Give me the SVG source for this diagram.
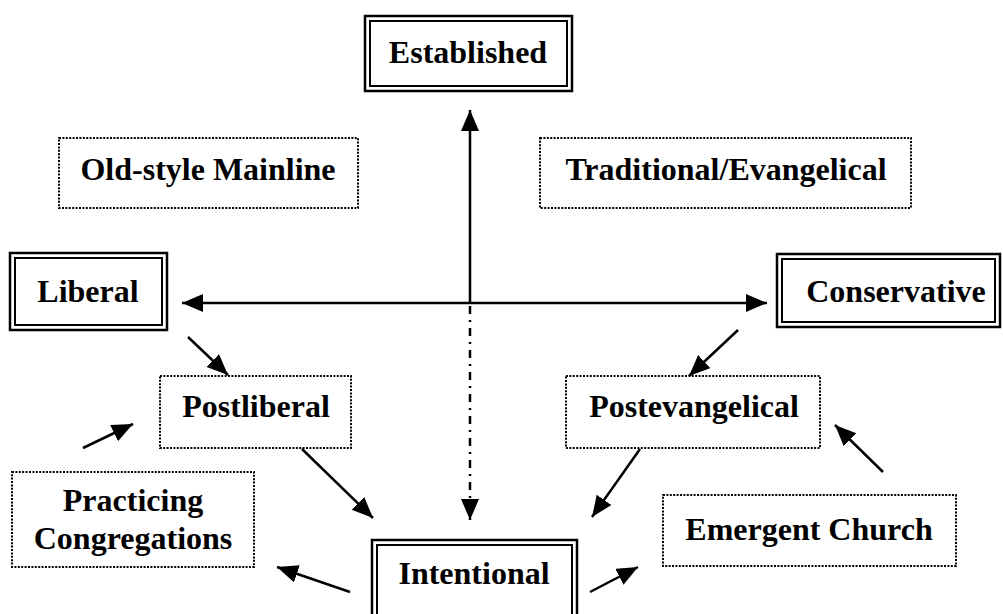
<svg xmlns="http://www.w3.org/2000/svg" width="1003" height="614" viewBox="0 0 1003 614">
<style>
text{font-family:"Liberation Serif","Times New Roman",serif;font-weight:bold;font-size:32px;fill:#000;text-anchor:middle}
.dbl{fill:none;stroke:#000;stroke-width:2.5}
.dbli{fill:none;stroke:#000;stroke-width:2}
.dot{fill:none;stroke:#000;stroke-width:2;stroke-dasharray:2 1.4}
.ar{fill:none;stroke:#000;stroke-width:2.5}
</style>
<defs>
<marker id="ah" markerUnits="userSpaceOnUse" markerWidth="24" markerHeight="20" refX="21" refY="9" orient="auto-start-reverse" viewBox="0 0 24 20">
<path d="M0,0 L21,9 L0,18 z" fill="#000"/>
</marker>
</defs>
<rect width="1003" height="614" fill="#fff"/>
<g id="connectors">
<line class="ar" x1="182" y1="303" x2="767" y2="303" marker-start="url(#ah)" marker-end="url(#ah)"/>
<line class="ar" x1="470" y1="304" x2="470" y2="110" marker-end="url(#ah)"/>
<line class="ar" x1="470" y1="306" x2="470" y2="520" stroke-dasharray="8 6 2 6" stroke-width="2.2" marker-end="url(#ah)"/>
<line class="ar" x1="188" y1="337" x2="228" y2="375" marker-end="url(#ah)"/>
<line class="ar" x1="738" y1="330" x2="689" y2="376" marker-end="url(#ah)"/>
<line class="ar" x1="302" y1="449" x2="373" y2="518" marker-end="url(#ah)"/>
<line class="ar" x1="640" y1="449" x2="592" y2="517" marker-end="url(#ah)"/>
<line class="ar" x1="83" y1="448" x2="133" y2="424" marker-end="url(#ah)"/>
<line class="ar" x1="883" y1="472" x2="835" y2="425" marker-end="url(#ah)"/>
<line class="ar" x1="350" y1="592" x2="277" y2="567" marker-end="url(#ah)"/>
<line class="ar" x1="590" y1="592" x2="638" y2="567" marker-end="url(#ah)"/>
</g>
<g id="established">
<rect class="dbl" x="365" y="16" width="207" height="75"/>
<rect class="dbli" x="370" y="21" width="197" height="65"/>
<text x="468" y="63">Established</text>
</g>
<g id="oldstyle">
<rect class="dot" x="59" y="138" width="299" height="70"/>
<text x="208" y="180">Old-style Mainline</text>
</g>
<g id="traditional">
<rect class="dot" x="540" y="138" width="371" height="70"/>
<text x="726" y="180">Traditional/Evangelical</text>
</g>
<g id="liberal">
<rect class="dbl" x="10" y="253" width="157" height="77"/>
<rect class="dbli" x="15" y="258" width="147" height="67"/>
<text x="88" y="302">Liberal</text>
</g>
<g id="conservative">
<rect class="dbl" x="777" y="254" width="223" height="73"/>
<rect class="dbli" x="782" y="259" width="213" height="63"/>
<text x="896" y="302">Conservative</text>
</g>
<g id="postliberal">
<rect class="dot" x="160" y="376" width="191" height="72"/>
<text x="256" y="417">Postliberal</text>
</g>
<g id="postevangelical">
<rect class="dot" x="566" y="376" width="254" height="72"/>
<text x="694" y="417">Postevangelical</text>
</g>
<g id="practicing">
<rect class="dot" x="12" y="472" width="242" height="95"/>
<text x="133" y="511">Practicing</text>
<text x="133" y="549">Congregations</text>
</g>
<g id="emergent">
<rect class="dot" x="663" y="495" width="293" height="71"/>
<text x="809" y="540">Emergent Church</text>
</g>
<g id="intentional">
<rect class="dbl" x="372" y="540" width="205" height="80"/>
<rect class="dbli" x="377" y="545" width="195" height="80"/>
<text x="474" y="584">Intentional</text>
</g>
</svg>
